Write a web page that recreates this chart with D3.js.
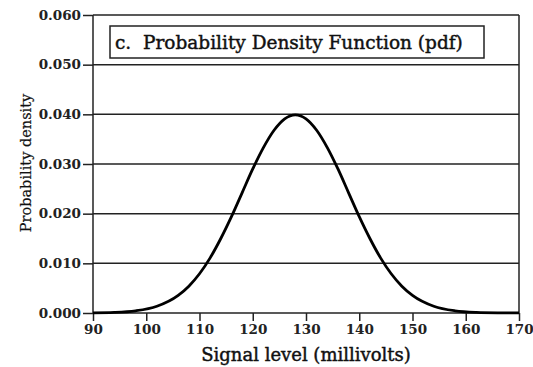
<!DOCTYPE html>
<html>
<head>
<meta charset="utf-8">
<script src="https://cdn.jsdelivr.net/npm/d3@7"></script>
<style>
  body { margin: 0; background: #fff; }
</style>
</head>
<body>
<div id="chart"></div>
<script>
// signal level (mV) and probability density
const signal = [90, 94, 98, 102, 106, 108, 110, 112, 114, 116, 118, 120, 122, 124, 126, 128,
                130, 132, 134, 136, 138, 140, 142, 144, 146, 148, 150, 154, 158, 162, 166, 170];
const density = [0.00003, 0.00012, 0.00044, 0.00136, 0.00355, 0.0054, 0.0079, 0.0111, 0.0150, 0.0194,
                 0.0242, 0.0290, 0.0333, 0.0368, 0.0391, 0.0399,
                 0.0391, 0.0368, 0.0333, 0.0290, 0.0242, 0.0194, 0.0150, 0.0111, 0.0079, 0.0054,
                 0.00355, 0.00136, 0.00044, 0.00012, 0.00003, 0.00001];
const xTicks = [90, 100, 110, 120, 130, 140, 150, 160, 170];
const yTicks = [0, 0.01, 0.02, 0.03, 0.04, 0.05, 0.06];
const title = "c.  Probability Density Function (pdf)";

const data = signal.map((s, i) => ({ x: s, y: density[i] }));

const margin = { top: 15, right: 14, bottom: 54, left: 93 };
const width = 533 - margin.left - margin.right;
const height = 367 - margin.top - margin.bottom;

const x = d3.scaleLinear().domain([90, 170]).range([0, width]);
const y = d3.scaleLinear().domain([0, 0.06]).range([height, 0]);

const serif = "'DejaVu Serif', serif";

const svg = d3.select("#chart")
    .append("svg")
    .attr("width", 533)
    .attr("height", 367);

const g = svg.append("g")
    .attr("transform", `translate(${margin.left}, ${margin.top})`);

// horizontal grid lines
g.append("g")
    .selectAll("line")
    .data(yTicks)
    .join("line")
    .attr("x1", 0)
    .attr("x2", width)
    .attr("y1", d => y(d))
    .attr("y2", d => y(d))
    .attr("stroke", "#222")
    .attr("stroke-width", 1.5);

// frame sides
g.append("line").attr("x1", 0).attr("x2", 0).attr("y1", 0).attr("y2", height)
    .attr("stroke", "#222").attr("stroke-width", 1.5);
g.append("line").attr("x1", width).attr("x2", width).attr("y1", 0).attr("y2", height)
    .attr("stroke", "#222").attr("stroke-width", 1.5);

const xAxis = d3.axisBottom(x)
    .tickValues(xTicks)
    .tickFormat(d3.format("d"))
    .tickSize(8)
    .tickSizeOuter(0);

const yAxis = d3.axisLeft(y)
    .tickValues(yTicks)
    .tickFormat(d3.format(".3f"))
    .tickSize(10)
    .tickSizeOuter(0);

const gx = g.append("g")
    .attr("transform", `translate(0, ${height})`)
    .call(xAxis);

const gy = g.append("g").call(yAxis);

[gx, gy].forEach(a => {
    a.select(".domain").remove();
    a.selectAll(".tick line").attr("stroke", "#222").attr("stroke-width", 1.5);
    a.selectAll(".tick text")
        .attr("fill", "#222")
        .style("font-family", serif)
        .style("font-size", "13.5px")
        .style("font-weight", "bold");
});
gx.selectAll(".tick text").attr("dy", "1em").attr("y", 7);
gy.selectAll(".tick text").attr("x", -12);

// the pdf curve
const line = d3.line()
    .x(d => x(d.x))
    .y(d => y(d.y))
    .curve(d3.curveMonotoneX);

g.append("path")
    .datum(data)
    .attr("fill", "none")
    .attr("stroke", "#000")
    .attr("stroke-width", 2.8)
    .attr("d", line);

// title box
g.append("rect")
    .attr("x", 17)
    .attr("y", 11)
    .attr("width", 374)
    .attr("height", 32)
    .attr("fill", "#fff")
    .attr("stroke", "#222")
    .attr("stroke-width", 1.5);

g.append("text")
    .attr("x", 22)
    .attr("y", 34)
    .style("font-family", serif)
    .style("font-size", "18.5px")
    .style("white-space", "pre")
    .attr("fill", "#111")
    .attr("stroke", "#111")
    .attr("stroke-width", 0.45)
    .text(title);

// axis titles
svg.append("text")
    .attr("x", margin.left + width / 2)
    .attr("y", 361)
    .attr("text-anchor", "middle")
    .style("font-family", serif)
    .style("font-size", "18px")
    .attr("fill", "#111")
    .attr("stroke", "#111")
    .attr("stroke-width", 0.45)
    .text("Signal level (millivolts)");

svg.append("text")
    .attr("transform", `translate(31, ${margin.top + height / 2 - 1}) rotate(-90)`)
    .attr("text-anchor", "middle")
    .style("font-family", serif)
    .style("font-size", "14.5px")
    .attr("fill", "#111")
    .attr("stroke", "#111")
    .attr("stroke-width", 0.2)
    .text("Probability density");
</script>
</body>
</html>
